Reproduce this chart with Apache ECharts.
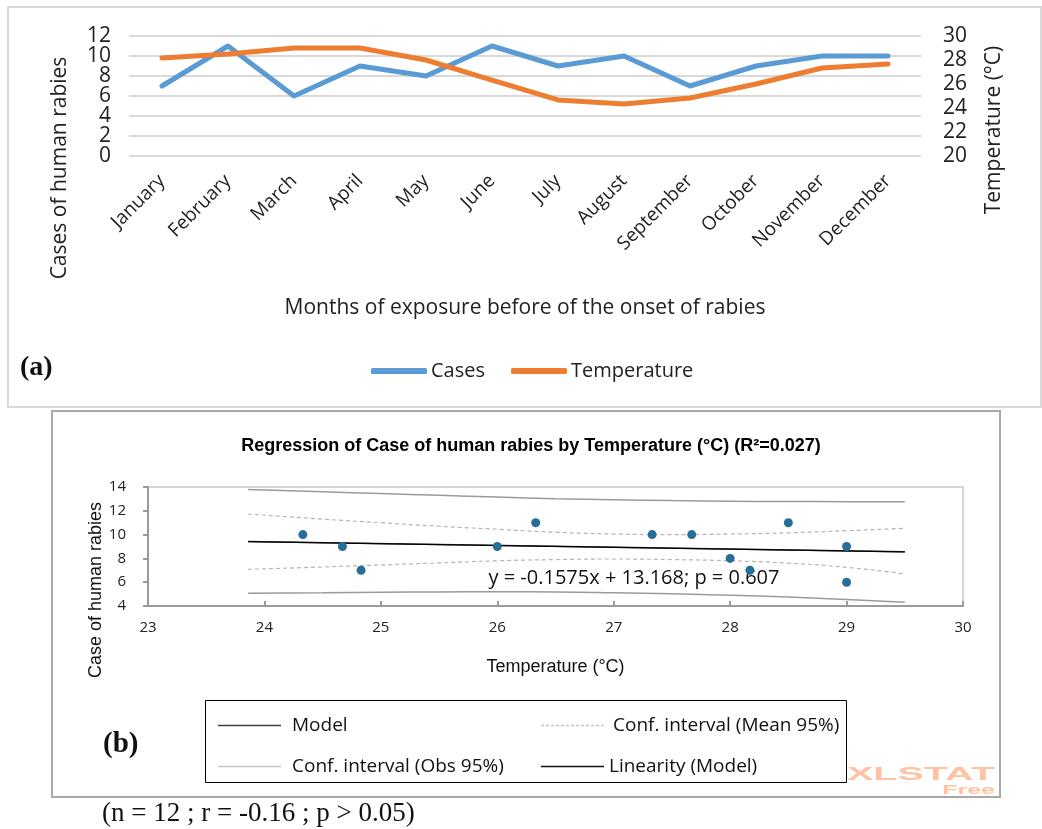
<!DOCTYPE html>
<html>
<head>
<meta charset="utf-8">
<script src="https://cdn.jsdelivr.net/npm/echarts@6/dist/echarts.min.js"></script>
<style>
  html, body { margin: 0; padding: 0; background: #fff; }
  #chart { width: 1042px; height: 829px; }
</style>
</head>
<body>
<div id="chart"></div>
<script>
// (a) monthly cases and temperature
const months = ['January', 'February', 'March', 'April', 'May', 'June', 'July',
  'August', 'September', 'October', 'November', 'December'];
const cases = [7, 11, 6, 9, 8, 11, 9, 10, 7, 9, 10, 10];
const temperature = [28.17, 28.5, 29, 29, 28, 26.33, 24.67, 24.33, 24.83, 26, 27.33, 27.67];
const casesTicks = [0, 2, 4, 6, 8, 10, 12];
const tempTicks = [20, 22, 24, 26, 28, 30];

// (b) regression of cases on temperature
const regTicksX = [23, 24, 25, 26, 27, 28, 29, 30];
const regTicksY = [4, 6, 8, 10, 12, 14];
const modelX = [23.86, 29.5];
const modelY = [9.41, 8.55];
const bandX = [23.86, 24.5, 25, 25.5, 26, 26.5, 27, 27.5, 28, 28.5, 29, 29.5];
const meanUpper = [11.73, 11.3, 11.0, 10.7, 10.45, 10.2, 10.05, 10.0, 10.05, 10.15, 10.33, 10.53];
const meanLower = [7.08, 7.28, 7.45, 7.62, 7.8, 7.9, 7.95, 7.9, 7.8, 7.6, 7.25, 6.7];
const obsUpper = [13.8, 13.6, 13.45, 13.3, 13.15, 13.02, 12.93, 12.86, 12.81, 12.78, 12.77, 12.77];
const obsLower = [5.07, 5.12, 5.16, 5.18, 5.19, 5.18, 5.12, 5.02, 4.9, 4.75, 4.55, 4.31];

const zip = (xs, ys) => xs.map((x, i) => [x, ys[i]]);
const sans = '"Open Sans", "Noto Sans", sans-serif';
const arial = '"Liberation Sans", Arial, sans-serif';
const serif = '"Liberation Serif", "DejaVu Serif", serif';

// legend icons for (b): thin solid bar and a dashed bar, 63 x 1.5
let dashPath = 'path://';
for (let x = 0; x < 63; x += 5) dashPath += 'M' + x + ' 0h3v1.5h-3z';
const legendText = { fontFamily: sans, fontSize: 19, color: '#111' };

// the 20px-spaced case labels get culled as overlapping, so they are split
// over two stacked left axes (every other tick on each)
const casesLabel = (keep) => ({
  margin: 18, showMinLabel: true, showMaxLabel: true,
  fontFamily: sans, fontSize: 21, color: '#222',
  formatter: (v) => (casesTicks.indexOf(v) % 2 === keep ? String(v) : '')
});

var myChart = echarts.init(document.getElementById('chart'));

const option = {
  animation: false,
  backgroundColor: '#fff',
  title: {
    text: 'Regression of Case of human rabies by Temperature (°C) (R²=0.027)',
    left: 526,
    textAlign: 'center',
    top: 432,
    textStyle: { fontFamily: arial, fontSize: 18, fontWeight: 'bold', color: '#000' }
  },
  grid: [
    { left: 129, top: 36, width: 792, height: 120 },
    { left: 148, top: 487, width: 815, height: 119, show: true, borderColor: '#c8c8c8', borderWidth: 1.5 }
  ],
  legend: [
    {
      data: ['Cases', 'Temperature'],
      left: 366, top: 356,
      icon: 'roundRect',
      itemWidth: 56, itemHeight: 6, itemGap: 26,
      textStyle: { fontFamily: sans, fontSize: 20, color: '#222', padding: [0, 0, 0, -1] }
    },
    // the (b) legend is laid out in two rows of two
    {
      data: [{ name: 'Model', icon: 'rect', itemStyle: { color: '#404040' } }],
      left: 213, top: 711, itemWidth: 63, itemHeight: 1.5,
      textStyle: Object.assign({ padding: [0, 0, 0, 6] }, legendText)
    },
    {
      data: [{ name: 'Conf. interval (Mean 95%)', icon: dashPath, itemStyle: { color: '#c4c4c4' } }],
      left: 536, top: 711, itemWidth: 63, itemHeight: 1.5,
      textStyle: Object.assign({ padding: [0, 0, 0, 4] }, legendText)
    },
    {
      data: [{ name: 'Conf. interval (Obs 95%)', icon: 'rect', itemStyle: { color: '#c4c4c4' } }],
      left: 213, top: 752, itemWidth: 63, itemHeight: 1.5,
      textStyle: Object.assign({ padding: [0, 0, 0, 6] }, legendText)
    },
    {
      data: [{ name: 'Linearity (Model)', icon: 'rect', itemStyle: { color: '#111' } }],
      left: 536, top: 752, itemWidth: 63, itemHeight: 1.5,
      textStyle: Object.assign({ padding: [0, 0, 0, 0] }, legendText)
    }
  ],
  xAxis: [
    {
      gridIndex: 0,
      type: 'category',
      data: months,
      boundaryGap: true,
      axisLine: { show: false },
      axisTick: { show: false },
      axisLabel: { interval: 0, rotate: 45, margin: 22, fontFamily: sans, fontSize: 19, color: '#222' },
      name: 'Months of exposure before of the onset of rabies',
      nameLocation: 'middle',
      nameGap: 142,
      nameTextStyle: { fontFamily: sans, fontSize: 21, color: '#222' }
    },
    {
      gridIndex: 1,
      type: 'value',
      min: regTicksX[0],
      max: regTicksX[regTicksX.length - 1],
      interval: 1,
      axisLine: { onZero: false, lineStyle: { color: '#9a9a9a', width: 2 } },
      axisTick: { inside: true, length: 5, lineStyle: { color: '#9a9a9a', width: 2 } },
      splitLine: { show: false },
      axisLabel: { margin: 14, showMinLabel: true, showMaxLabel: true, fontFamily: sans, fontSize: 15, color: '#222' },
      name: 'Temperature (°C)',
      nameLocation: 'middle',
      nameGap: 52,
      nameTextStyle: { fontFamily: arial, fontSize: 18, color: '#111' }
    }
  ],
  yAxis: [
    {
      gridIndex: 0,
      type: 'value',
      min: casesTicks[0],
      max: casesTicks[casesTicks.length - 1],
      interval: 2,
      axisLine: { show: false },
      axisTick: { show: false },
      splitLine: { showMinLine: true, showMaxLine: true, lineStyle: { color: '#d9d9d9', width: 2 } },
      axisLabel: casesLabel(0)
    },
    {
      gridIndex: 0,
      type: 'value',
      position: 'right',
      min: tempTicks[0],
      max: tempTicks[tempTicks.length - 1],
      interval: 2,
      axisLine: { show: false },
      axisTick: { show: false },
      splitLine: { show: false },
      axisLabel: { margin: 22, showMinLabel: true, showMaxLabel: true, fontFamily: sans, fontSize: 21, color: '#222' }
    },
    {
      gridIndex: 1,
      type: 'value',
      min: regTicksY[0],
      max: regTicksY[regTicksY.length - 1],
      interval: 2,
      axisLine: { show: true, onZero: false, lineStyle: { color: '#9a9a9a', width: 2 } },
      axisTick: { show: true, length: 5, lineStyle: { color: '#9a9a9a', width: 2 } },
      splitLine: { show: false },
      axisLabel: { margin: 22, showMinLabel: true, showMaxLabel: true, fontFamily: sans, fontSize: 15, color: '#222' }
    },
    {
      gridIndex: 0,
      type: 'value',
      position: 'left',
      offset: 0,
      min: casesTicks[0],
      max: casesTicks[casesTicks.length - 1],
      interval: 2,
      axisLine: { show: false },
      axisTick: { show: false },
      splitLine: { show: false },
      axisLabel: casesLabel(1)
    }
  ],
  series: [
    {
      name: 'Cases', type: 'line', xAxisIndex: 0, yAxisIndex: 0,
      data: cases, symbol: 'none', color: '#5b9bd5',
      lineStyle: { width: 5, cap: 'round', join: 'round' }
    },
    {
      name: 'Temperature', type: 'line', xAxisIndex: 0, yAxisIndex: 1,
      data: temperature, symbol: 'none', color: '#ed7d31',
      lineStyle: { width: 5, cap: 'round', join: 'round' }
    },
    {
      name: 'Conf. interval (Obs 95%)', type: 'line', xAxisIndex: 1, yAxisIndex: 2,
      data: zip(bandX, obsUpper), symbol: 'none', smooth: true, color: '#9a9a9a',
      lineStyle: { width: 1.5 }
    },
    {
      name: 'Conf. interval (Obs 95%)', type: 'line', xAxisIndex: 1, yAxisIndex: 2,
      data: zip(bandX, obsLower), symbol: 'none', smooth: true, color: '#9a9a9a',
      lineStyle: { width: 1.5 }
    },
    {
      name: 'Conf. interval (Mean 95%)', type: 'line', xAxisIndex: 1, yAxisIndex: 2,
      data: zip(bandX, meanUpper), symbol: 'none', smooth: true, color: '#b4b4b4',
      lineStyle: { width: 1.2, type: [4, 3] }
    },
    {
      name: 'Conf. interval (Mean 95%)', type: 'line', xAxisIndex: 1, yAxisIndex: 2,
      data: zip(bandX, meanLower), symbol: 'none', smooth: true, color: '#b4b4b4',
      lineStyle: { width: 1.2, type: [4, 3] }
    },
    {
      name: 'Model', type: 'line', xAxisIndex: 1, yAxisIndex: 2,
      data: zip(modelX, modelY), symbol: 'none', color: '#404040',
      lineStyle: { width: 1.5 }
    },
    {
      name: 'Linearity (Model)', type: 'line', xAxisIndex: 1, yAxisIndex: 2,
      data: zip(modelX, modelY), symbol: 'none', color: '#000',
      lineStyle: { width: 1.2 }
    },
    {
      name: 'Observations', type: 'scatter', xAxisIndex: 1, yAxisIndex: 2,
      data: zip(temperature, cases), symbolSize: 9,
      itemStyle: { color: '#276f98', opacity: 1 }, z: 5
    }
  ],
  graphic: [
    { type: 'rect', shape: { x: 8, y: 7, width: 1033, height: 400 }, style: { fill: 'none', stroke: '#dadada', lineWidth: 2 } },
    { type: 'rect', shape: { x: 52, y: 411, width: 948, height: 386 }, style: { fill: 'none', stroke: '#a8a8a8', lineWidth: 2 } },
    { type: 'rect', shape: { x: 205.5, y: 700.5, width: 641, height: 82 }, style: { fill: 'none', stroke: '#000', lineWidth: 1 } },
    {
      type: 'text', x: 60, y: 168, rotation: Math.PI / 2,
      style: { text: 'Cases of human rabies', align: 'center', verticalAlign: 'middle', font: '21px ' + sans, fill: '#222' }
    },
    {
      type: 'text', x: 994, y: 130, rotation: Math.PI / 2,
      style: { text: 'Temperature (°C)', align: 'center', verticalAlign: 'middle', font: '21px ' + sans, fill: '#222' }
    },
    {
      type: 'text', x: 96, y: 590, rotation: Math.PI / 2,
      style: { text: 'Case of human rabies', align: 'center', verticalAlign: 'middle', font: '18px ' + arial, fill: '#111' }
    },
    {
      type: 'text', x: 634, y: 578,
      style: { text: 'y = -0.1575x + 13.168; p = 0.607', align: 'center', verticalAlign: 'middle', font: '20px ' + sans, fill: '#111' }
    },
    {
      type: 'text', x: 20, y: 368,
      style: { text: '(a)', align: 'left', verticalAlign: 'middle', font: 'bold 28px ' + serif, fill: '#111' }
    },
    {
      type: 'text', x: 103, y: 745,
      style: { text: '(b)', align: 'left', verticalAlign: 'middle', font: 'bold 29px ' + serif, fill: '#111' }
    },
    {
      type: 'text', x: 102, y: 814,
      style: { text: '(n = 12 ; r = -0.16 ; p > 0.05)', align: 'left', verticalAlign: 'middle', font: '27px ' + serif, fill: '#111' }
    },
    {
      type: 'text', x: 847, y: 775, scaleX: 2.08,
      style: { text: 'XLSTAT', align: 'left', verticalAlign: 'middle', font: 'bold 19px ' + arial, fill: '#fdc3a3' }
    },
    {
      type: 'text', x: 995, y: 790, scaleX: 1.92,
      style: { text: 'Free', align: 'right', verticalAlign: 'middle', font: 'bold 13px ' + arial, fill: '#fdc3a3' }
    }
  ]
};

myChart.setOption(option);
</script>
</body>
</html>
